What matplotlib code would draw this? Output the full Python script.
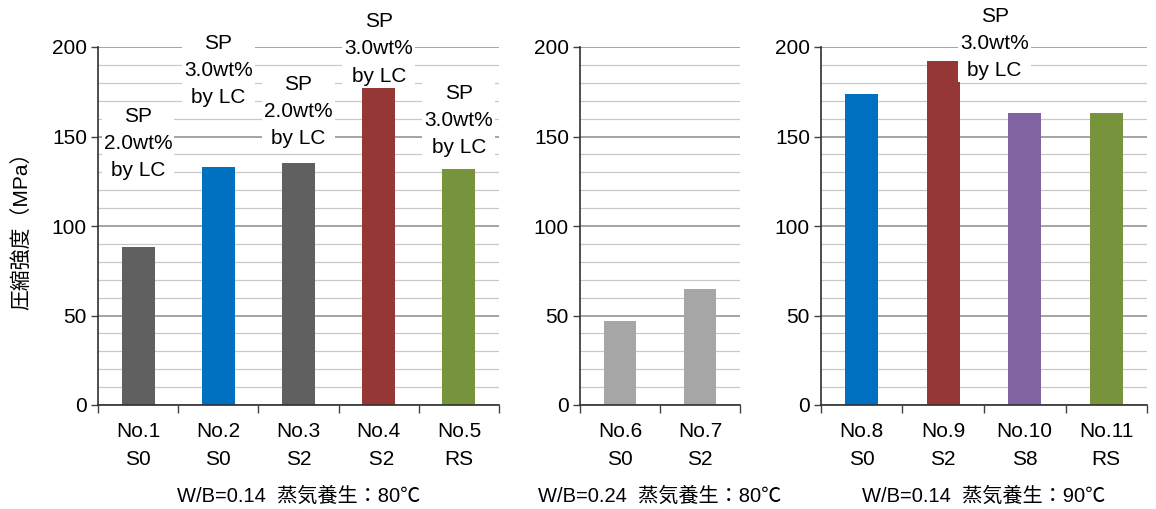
import matplotlib
matplotlib.use("Agg")
import matplotlib.pyplot as plt
from matplotlib.ticker import MultipleLocator, FixedLocator

plt.rcParams['font.family'] = ['Liberation Sans', 'Noto Sans CJK JP', 'DejaVu Sans']

# ---- data ----
left_labels = ["No.1\nS0", "No.2\nS0", "No.3\nS2", "No.4\n S2", "No.5\nRS"]
left_values = [88, 133, 135, 178, 132]
left_colors = ["#606060", "#0070c0", "#606060", "#953735", "#77933c"]

mid_labels = ["No.6\nS0", "No.7\nS2"]
mid_values = [47, 65]
mid_colors = ["#a6a6a6", "#a6a6a6"]

right_labels = ["No.8\nS0", "No.9\nS2", "No.10\nS8", "No.11\nRS"]
right_values = [174, 192, 163, 163]
right_colors = ["#0070c0", "#953735", "#8064a2", "#77933c"]

panel_titles = ["W/B=0.14  蒸気養生：80℃", "W/B=0.24  蒸気養生：80℃", "W/B=0.14  蒸気養生：90℃"]
ylabel = "圧縮強度（MPa）"

# annotations: (x position in category units, y position, text)
left_notes = [(0, 146, "SP\n2.0wt%\nby LC"), (1, 187, "SP\n3.0wt%\nby LC"),
              (2, 164, "SP\n2.0wt%\nby LC"), (3, 199, "SP\n3.0wt%\nby LC"),
              (4, 159, "SP\n3.0wt%\nby LC")]
mid_notes = []
right_notes = [(1.63, 202, "SP\n3.0wt%\nby LC")]

FS = 15

fig = plt.figure(figsize=(11.56, 5.09), dpi=100)
W, H = 1156, 509
def axes_px(x0, x1, y0=47, y1=405):
    return fig.add_axes([x0 / W, (H - y1) / H, (x1 - x0) / W, (y1 - y0) / H])

panels = [
    (axes_px(98, 499), left_labels, left_values, left_colors, left_notes, panel_titles[0]),
    (axes_px(580, 740), mid_labels, mid_values, mid_colors, mid_notes, panel_titles[1]),
    (axes_px(821, 1147), right_labels, right_values, right_colors, right_notes, panel_titles[2]),
]

for i, (ax, labels, values, colors, notes, title) in enumerate(panels):
    n = len(values)
    x = list(range(n))
    ax.bar(x, values, width=0.41, color=colors, zorder=3)
    ax.set_xlim(-0.5, n - 0.5)
    ax.set_ylim(0, 200)
    ax.yaxis.set_major_locator(MultipleLocator(50))
    ax.yaxis.set_minor_locator(MultipleLocator(10))
    ax.grid(which='major', axis='y', color='#8c8c8c', linewidth=1.1, zorder=1)
    ax.grid(which='minor', axis='y', color='#c8c8c8', linewidth=0.9, zorder=1)
    ax.set_axisbelow(True)
    ax.set_xticks(x)
    ax.set_xticklabels(labels, fontsize=FS, linespacing=1.65)
    ax.xaxis.set_minor_locator(FixedLocator([k - 0.5 for k in range(n + 1)]))
    ax.tick_params(axis='x', which='major', length=0, pad=12)
    ax.tick_params(axis='x', which='minor', length=6, width=1.0, direction='out', color='#404040')
    ax.tick_params(axis='y', which='major', length=5, width=1.0, direction='out', labelsize=FS, pad=3, color='#404040')
    ax.tick_params(axis='y', which='minor', length=0)
    for s in ('top', 'right'):
        ax.spines[s].set_visible(False)
    for s in ('left', 'bottom'):
        ax.spines[s].set_color('#303030')
        ax.spines[s].set_linewidth(1.2)
        ax.spines[s].set_zorder(4)
    ax.set_xlabel(title, fontsize=14.5, labelpad=12.5)
    for (nx, ny, txt) in notes:
        ax.text(nx, ny, txt, ha='center', va='center', fontsize=FS, linespacing=1.55,
                zorder=5, clip_on=False,
                bbox=dict(facecolor='white', edgecolor='none', pad=1.5))

panels[0][0].set_ylabel(ylabel, fontsize=15, labelpad=14)

fig.savefig("out.png", dpi=100)
